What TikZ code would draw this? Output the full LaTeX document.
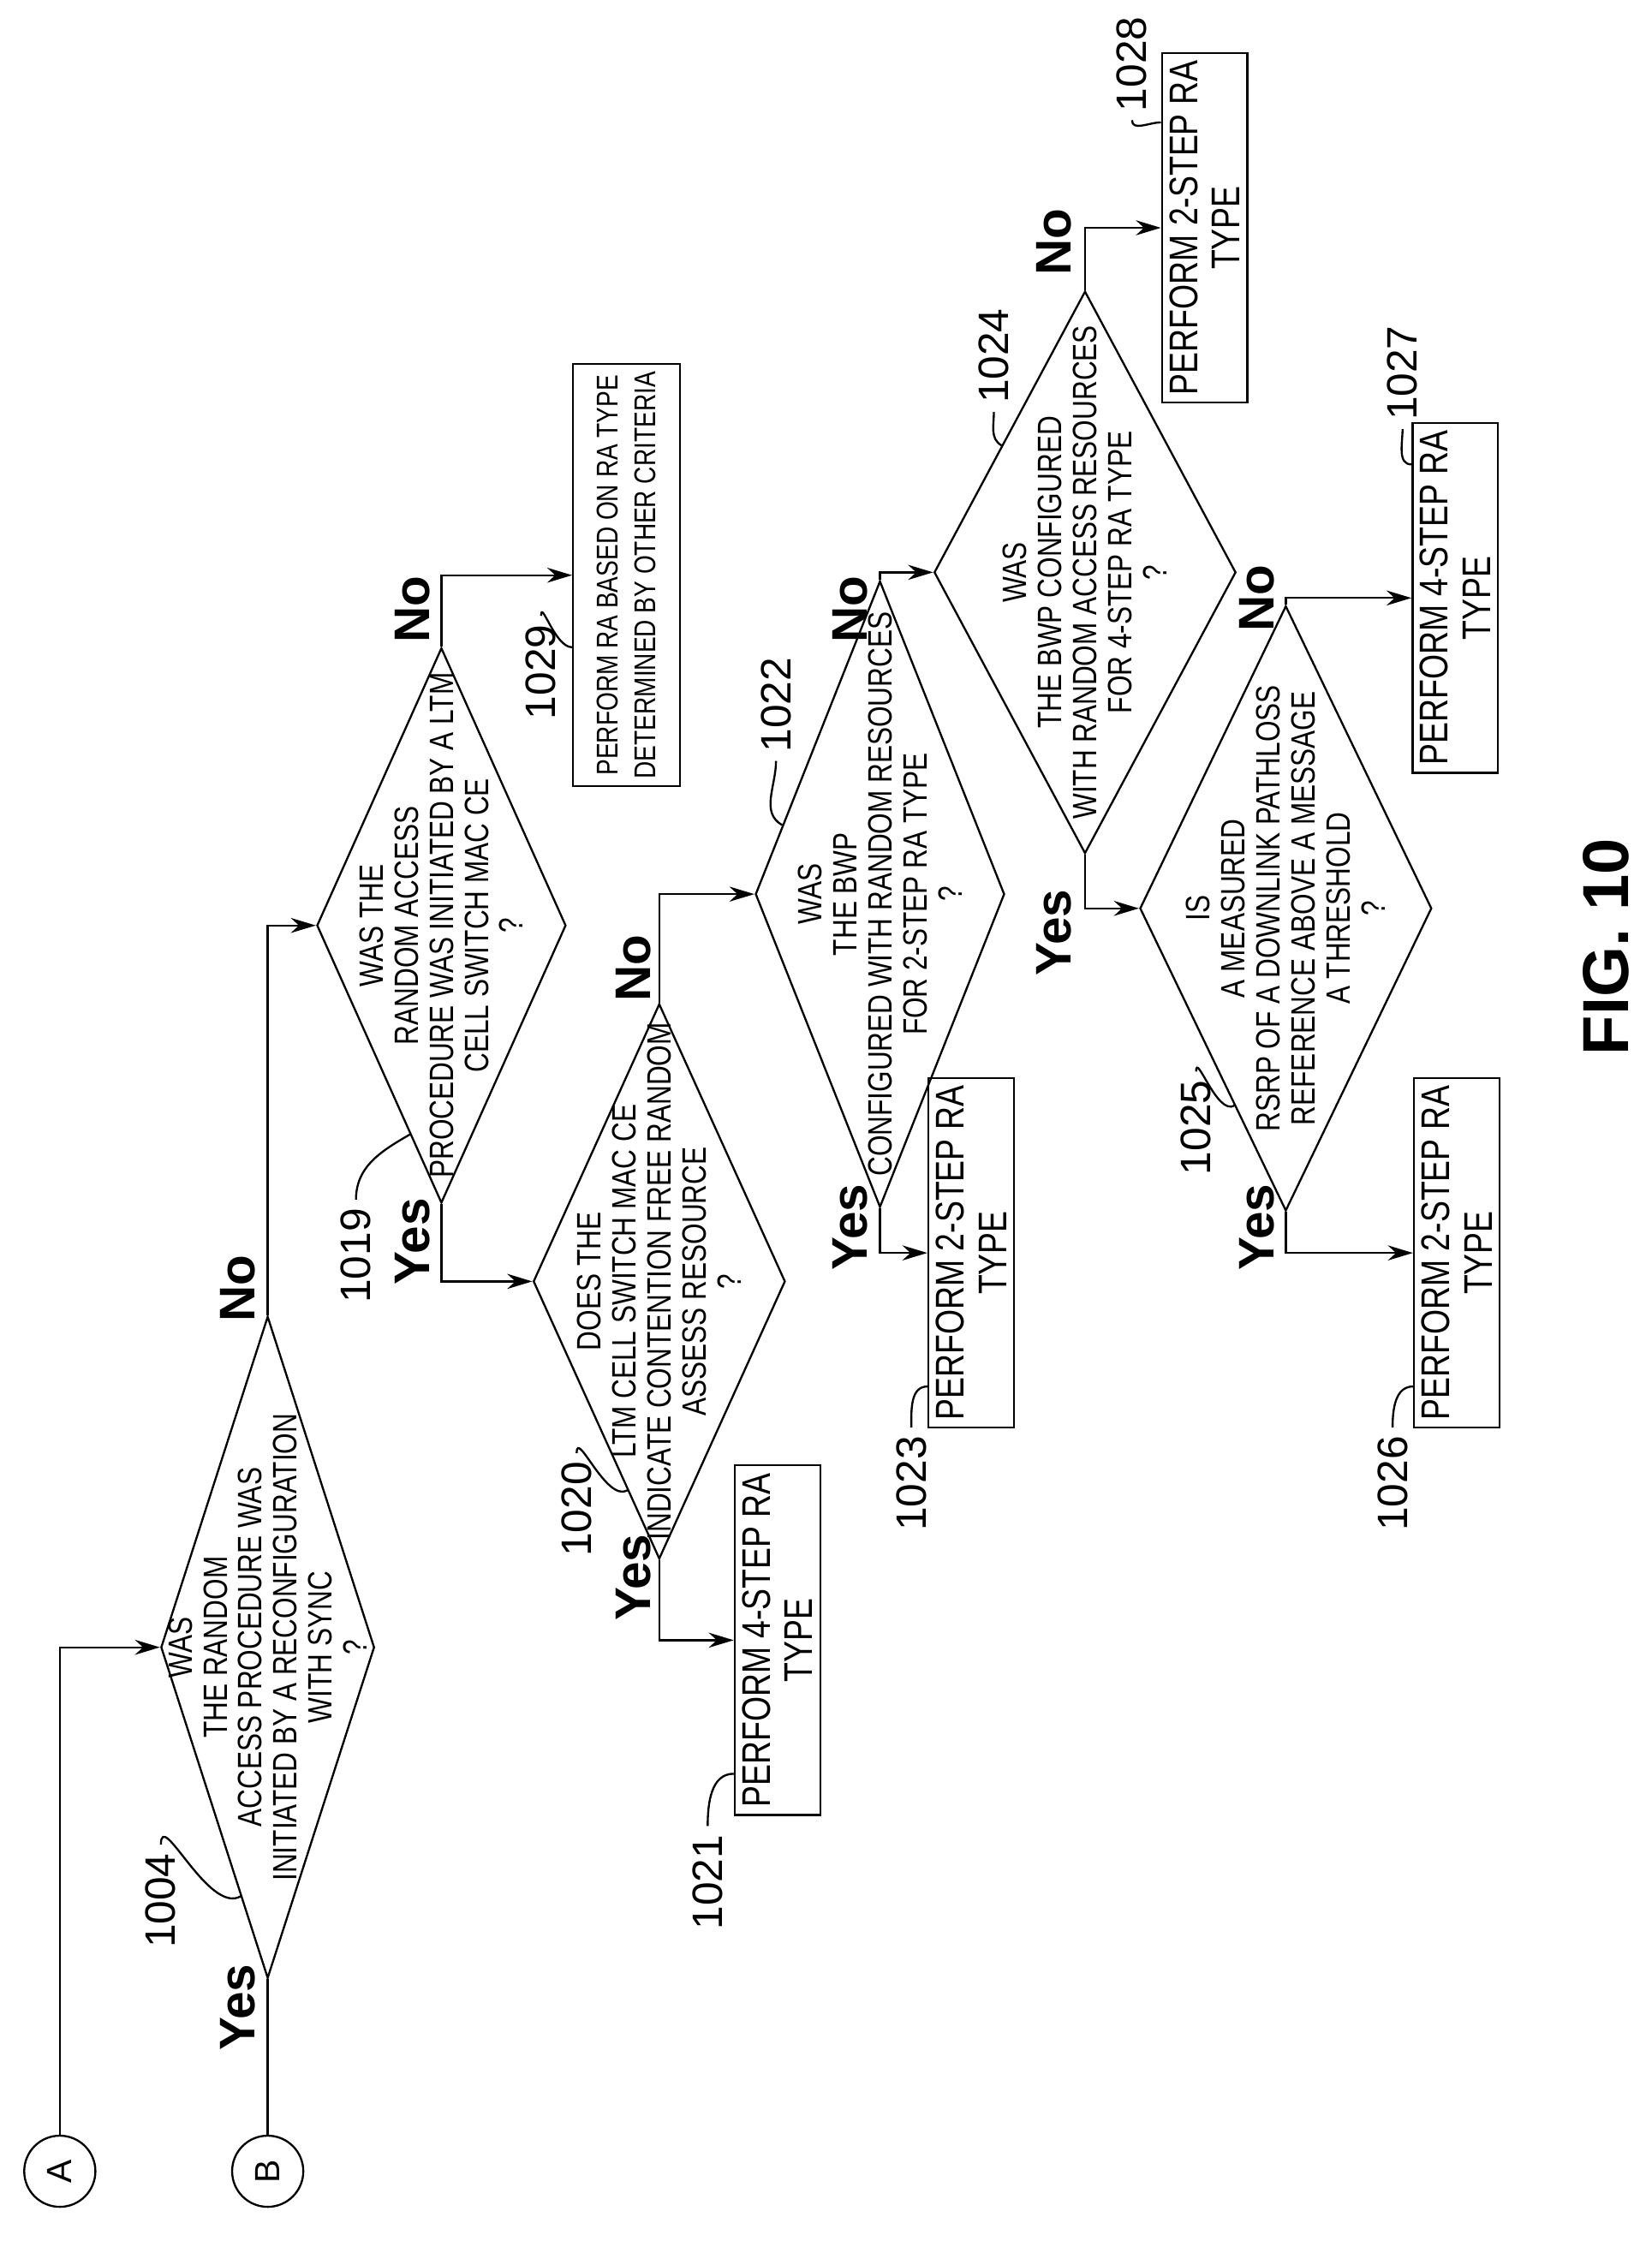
\documentclass[tikz,border=0pt]{standalone}
\usepackage{fontspec}
\setmainfont{Liberation Sans}
\newfontfamily\narrowsf[FakeStretch=0.8]{Liberation Sans}
\usetikzlibrary{shapes.geometric,calc,arrows.meta}
\begin{document}
\begin{tikzpicture}[x=0.02cm, y=-0.02cm,
    dec/.style={draw, thick, diamond, inner sep=0pt, rotate=90},
    qtxt/.style={rotate=90, align=center, font=\narrowsf\fontsize{13.5}{14}\selectfont},
    action/.style={draw, thick, rectangle, rotate=90, align=center, inner sep=3pt, font=\narrowsf\fontsize{16}{17}\selectfont},
    ref/.style={rotate=90, font=\fontsize{17}{17}\selectfont},
    yn/.style={rotate=90, font=\bfseries\fontsize{20}{20}\selectfont},
    flow/.style={thick, -{Stealth[length=10pt,width=6pt]}},
    lead/.style={thick},
    conn/.style={draw, thick, circle, minimum size=1cm, inner sep=0pt, rotate=90, font=\fontsize{14}{14}\selectfont}]

  \useasboundingbox (0,0) rectangle (1160,1574);

  %connectors
  \node[conn] (A) at (42,1525) {A};
  \node[conn] (B) at (188,1525) {B};

  %decisions
  \node[dec, minimum width=9.3cm, minimum height=3.0cm] (d1004) at (188,1157) {};
  \node[dec, minimum width=7.8cm, minimum height=3.5cm] (d1019) at (310,650) {};
  \node[dec, minimum width=7.8cm, minimum height=3.54cm] (d1020) at (463,900) {};
  \node[dec, minimum width=8.8cm, minimum height=3.5cm] (d1022) at (618,628) {};
  \node[dec, minimum width=7.9cm, minimum height=4.24cm] (d1024) at (762,402) {};
  \node[dec, minimum width=8.5cm, minimum height=4.1cm] (d1025) at (903,638) {};

  \node[qtxt] (t1004) at (d1004) {WAS\\THE RANDOM\\ACCESS PROCEDURE WAS\\INITIATED BY A RECONFIGURATION\\WITH SYNC\\?};
  \node[qtxt] (t1019) at (d1019) {WAS THE\\RANDOM ACCESS\\PROCEDURE WAS INITIATED BY A LTM\\CELL SWITCH MAC CE\\?};
  \node[qtxt] (t1020) at (d1020) {DOES THE\\LTM CELL SWITCH MAC CE\\INDICATE CONTENTION FREE RANDOM\\ASSESS RESOURCE\\?};
  \node[qtxt] (t1022) at (d1022) {WAS\\THE BWP\\CONFIGURED WITH RANDOM RESOURCES\\FOR 2-STEP RA TYPE\\?};
  \node[qtxt] (t1024) at (d1024) {WAS\\THE BWP CONFIGURED\\WITH RANDOM ACCESS RESOURCES\\FOR 4-STEP RA TYPE\\?};
  \node[qtxt] (t1025) at (d1025) {IS\\A MEASURED\\RSRP OF A DOWNLINK PATHLOSS\\REFERENCE ABOVE A MESSAGE\\A THRESHOLD\\?};

  %actions
  \node[action, font=\narrowsf\fontsize{12}{15}\selectfont, minimum width=5.4cm, minimum height=1.5cm] (r1029) at (440,404) {PERFORM RA BASED ON RA TYPE\\DETERMINED BY OTHER CRITERIA};
  \foreach \name/\x/\y/\txt in {r1021/546/1152/4, r1023/682/880/2, r1026/1023/880/2, r1027/1022/420/4, r1028/846/160/2}{
    \node[action, minimum width=4.8cm] (\name) at (\x,\y) {PERFORM \txt-STEP RA\\TYPE};
  }

  %flow
  \draw[flow] (A) |- (d1004.north);
  \draw[thick] (B) -- (d1004.west);
  \draw[flow] (d1004.east) |- (d1019.north);
  \draw[flow] (d1019.east) |- (r1029.north);
  \draw[flow] (d1019.west) |- (d1020.north);
  \draw[flow] (d1020.west) |- (r1021.north);
  \draw[flow] (d1020.east) |- (d1022.north);
  \draw[flow] (d1022.west) |- (r1023.north);
  \draw[flow] (d1022.east) |- (d1024.north);
  \draw[flow] (d1024.east) |- (r1028.north);
  \draw[flow] (d1024.west) |- (d1025.north);
  \draw[flow] (d1025.west) |- (r1026.north);
  \draw[flow] (d1025.east) |- (r1027.north);

  \foreach \x/\y/\t in {167/1410/Yes, 167/905/No, 290/872/Yes, 290/428/No, 445/1108/Yes, 445/680/No,
                        597/862/Yes, 597/428/No, 740/655/Yes, 740/170/No, 883/862/Yes, 883/420/No}{
    \node[yn] at (\x,\y) {\t};
  }

  %reference numerals
  \node[ref] (l1004) at (113,1335) {1004};
  \node[ref] (l1019) at (250,882) {1019};
  \node[ref] (l1029) at (380,472) {1029};
  \node[ref] (l1020) at (405,1060) {1020};
  \node[ref] (l1021) at (497,1322) {1021};
  \node[ref] (l1022) at (545,495) {1022};
  \node[ref] (l1023) at (640,1042) {1023};
  \node[ref] (l1024) at (698,250) {1024};
  \node[ref] (l1025) at (840,792) {1025};
  \node[ref] (l1026) at (978,1042) {1026};
  \node[ref] (l1027) at (985,262) {1027};
  \node[ref] (l1028) at (795,45) {1028};

  \draw[lead] (l1004.east) to[out=90,in=210] ($(d1004.west)!0.25!(d1004.north)$);
  \draw[lead] (l1019.east) to[out=90,in=210] ($(d1019.west)!0.25!(d1019.north)$);
  \draw[lead] (l1020.east) to[out=90,in=210] ($(d1020.west)!0.25!(d1020.north)$);
  \draw[lead] (l1025.east) to[out=90,in=210] ($(d1025.west)!0.35!(d1025.north)$);
  \draw[lead] (l1029.east) to[out=90,in=180] ($(r1029.north west)!0.33!(r1029.north east)$);
  \draw[lead] (l1021.east) to[out=90,in=180] ($(r1021.north west)!0.12!(r1021.north east)$);
  \draw[lead] (l1023.east) to[out=90,in=180] ($(r1023.north west)!0.12!(r1023.north east)$);
  \draw[lead] (l1026.east) to[out=90,in=180] ($(r1026.north west)!0.12!(r1026.north east)$);
  \draw[lead] (l1022.west) to[out=-90,in=150] ($(d1022.north)!0.22!(d1022.east)$);
  \draw[lead] (l1024.west) to[out=-90,in=150] ($(d1024.north)!0.45!(d1024.east)$);
  \draw[lead] (l1027.west) to[out=-90,in=180] ($(r1027.north east)!0.12!(r1027.north west)$);
  \draw[lead] (l1028.west) to[out=-90,in=180] ($(r1028.north east)!0.2!(r1028.north west)$);

  \node[rotate=90, font=\bfseries\fontsize{26}{26}\selectfont] (fig) at (1128,665) {FIG. 10};
\end{tikzpicture}
\end{document}
